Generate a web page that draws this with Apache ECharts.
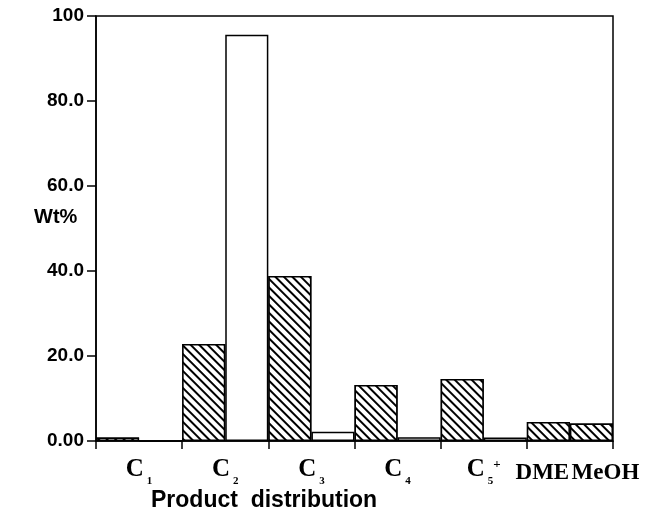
<!DOCTYPE html>
<html>
<head>
<meta charset="utf-8">
<script src="https://cdn.jsdelivr.net/npm/echarts@6/dist/echarts.min.js"></script>
<style>
html,body{margin:0;padding:0;background:#fff;}
#chart{width:648px;height:514px;}
</style>
</head>
<body>
<div id="chart"></div>
<script>
// Product categories
const categories = ['C1', 'C2', 'C3', 'C4', 'C5+', 'DME', 'MeOH'];
// Hatched series (one value per category)
const hatchedValues = [0.8, 22.8, 38.8, 13.2, 14.6, 4.5, 4.1];
// Open (white) series, only for C1..C5+
const openValues = [0.05, 95.6, 2.2, 0.9, 0.8];
// Y tick labels
const yTickValues = [0, 20, 40, 60, 80, 100];
const yTickLabels = ['0.00', '20.0', '40.0', '60.0', '80.0', '100'];

// Build 12 bar slots: hydrocarbons take two slots (hatched, open), DME/MeOH one slot each
const slots = [];
const hatchedData = [];
const openData = [];
const labelPos = []; // in half-slot units on a 25-point axis
categories.forEach((c, i) => {
  if (i < openValues.length) {
    slots.push(c + '_a', c + '_b');
    hatchedData.push(hatchedValues[i], null);
    openData.push(null, openValues[i]);
    labelPos.push({ name: c, at: (slots.length - 1) * 2 });
  } else {
    slots.push(c);
    hatchedData.push(hatchedValues[i]);
    openData.push(null);
    labelPos.push({ name: c, at: (slots.length - 1) * 2 + 1 });
  }
});
const halfPoints = new Array(slots.length * 2 + 1).fill('');
labelPos.forEach(p => { halfPoints[p.at] = p.name; });

const serifBold = { fontFamily: 'Liberation Serif', fontWeight: 'bold', color: '#000', verticalAlign: 'top' };
const richLabel = {
  c: Object.assign({ fontSize: 25, lineHeight: 26 }, serifBold),
  s: Object.assign({ fontSize: 11, lineHeight: 12, padding: [19, 0, 0, 3] }, serifBold),
  p: Object.assign({ fontSize: 13, lineHeight: 14, padding: [1, 0, 0, 0] }, serifBold),
  d: Object.assign({ fontSize: 23, lineHeight: 26, padding: [5, 12, 0, 0] }, serifBold),
  m: Object.assign({ fontSize: 23, lineHeight: 26, padding: [5, 0, 0, 28] }, serifBold)
};
function fmtCat(name) {
  if (!name) return '';
  const m = name.match(/^C(\d)(\+?)$/);
  if (m) return '{c|C}{s|' + m[1] + '}' + (m[2] ? '{p|+}' : '');
  return name === 'DME' ? '{d|' + name + '}' : '{m|' + name + '}';
}

const hatchDecal = {
  symbol: 'rect', symbolSize: 1, dashArrayX: [[1, 0]], dashArrayY: [2, 3.2],
  rotation: Math.PI / 4, color: '#000', backgroundColor: '#fff'
};

const chart = echarts.init(document.getElementById('chart'), null, { renderer: 'canvas' });
chart.setOption({
  animation: false,
  backgroundColor: '#fff',
  grid: { left: 96, right: 35, top: 16, bottom: 73, show: true, borderColor: '#000', borderWidth: 1.5, backgroundColor: 'transparent' },
  xAxis: [
    {
      type: 'category', data: slots, position: 'bottom',
      axisLine: { show: true, onZero: false, lineStyle: { color: '#000', width: 1.5 } },
      axisTick: { show: true, length: 8, lineStyle: { color: '#000', width: 1.5 } },
      axisLabel: { show: false },
      splitLine: { show: false }
    },
    {
      type: 'category', data: halfPoints, position: 'bottom', boundaryGap: false,
      axisLine: { show: false }, axisTick: { show: false }, splitLine: { show: false },
      axisLabel: { interval: 0, margin: 16, formatter: fmtCat, rich: richLabel, verticalAlign: 'top' }
    }
  ],
  yAxis: {
    type: 'value', min: 0, max: 100, interval: 20,
    axisLine: { show: true, lineStyle: { color: '#000', width: 1.5 } },
    axisTick: { show: true, length: 9, lineStyle: { color: '#000', width: 1.5 } },
    splitLine: { show: false },
    axisLabel: {
      margin: 12, color: '#000', fontFamily: 'Liberation Sans', fontWeight: 'bold', fontSize: 19,
      formatter: v => { const i = yTickValues.indexOf(v); return i >= 0 ? yTickLabels[i] : ''; }
    }
  },
  series: [
    {
      type: 'bar', data: hatchedData, barWidth: '100%', barGap: '-100%', xAxisIndex: 0,
      itemStyle: { color: '#fff', borderColor: '#000', borderWidth: 1.5, decal: hatchDecal }
    },
    {
      type: 'bar', data: openData, barWidth: '100%', barGap: '-100%', xAxisIndex: 0,
      itemStyle: { color: '#fff', borderColor: '#000', borderWidth: 1.5 }
    }
  ],
  graphic: [
    { type: 'text', left: 34, top: 207, style: { text: 'Wt%', fontFamily: 'Liberation Sans', fontWeight: 'bold', fontSize: 20, fill: '#000' } },
    { type: 'text', left: 151, top: 489, style: { text: 'Product  distribution', fontFamily: 'Liberation Sans', fontWeight: 'bold', fontSize: 23, fill: '#000' } }
  ]
});
</script>
</body>
</html>
